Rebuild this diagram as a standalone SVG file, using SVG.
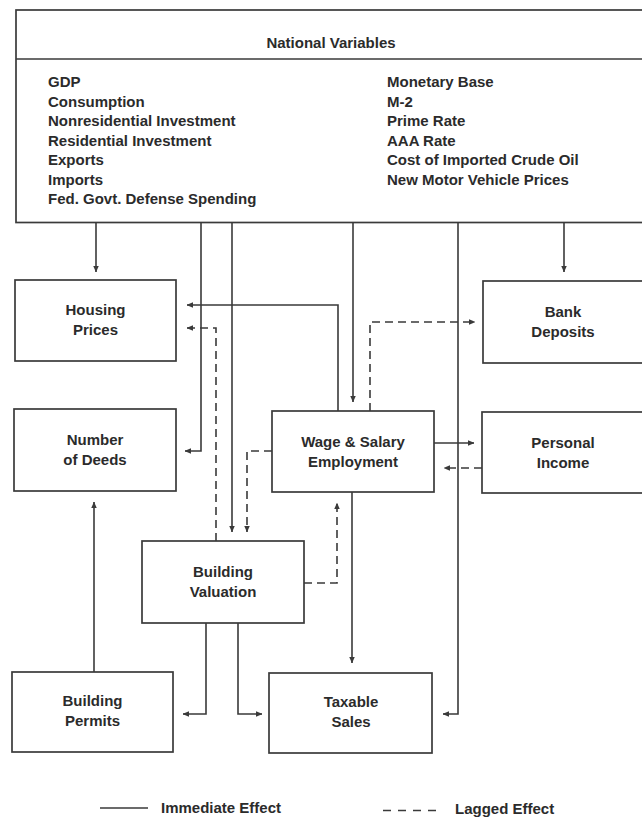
<svg xmlns="http://www.w3.org/2000/svg" width="642" height="817" viewBox="0 0 642 817">
<style>
  .bg { fill: #ffffff; }
  .box { fill: none; stroke: #3a3a3a; stroke-width: 1.7; }
  .t { font-family: "Liberation Sans", Arial, sans-serif; font-weight: bold; font-size: 15px; fill: #2b2b2b; }
  .c { text-anchor: middle; }
  .ln { fill: none; stroke: #3a3a3a; stroke-width: 1.6; }
  .ds { stroke-dasharray: 8 5; }
</style>
<defs>
  <marker id="ah" viewBox="0 0 8 8" refX="7.5" refY="4" markerWidth="6.5" markerHeight="6.5" markerUnits="userSpaceOnUse" orient="auto">
    <path d="M0,0.6 L8,4 L0,7.4 z" fill="#3a3a3a"/>
  </marker>
</defs>
<rect class="bg" x="0" y="0" width="642" height="817"/>

<g id="national-variables">
  <rect class="box" x="16" y="10" width="632" height="212.5"/>
  <line class="box" x1="16" y1="59" x2="648" y2="59"/>
  <text class="t c" x="331" y="48">National Variables</text>
  <text class="t" x="48" y="87">GDP</text>
  <text class="t" x="48" y="106.5">Consumption</text>
  <text class="t" x="48" y="126">Nonresidential Investment</text>
  <text class="t" x="48" y="145.5">Residential Investment</text>
  <text class="t" x="48" y="165">Exports</text>
  <text class="t" x="48" y="184.5">Imports</text>
  <text class="t" x="48" y="204">Fed. Govt. Defense Spending</text>
  <text class="t" x="387" y="87">Monetary Base</text>
  <text class="t" x="387" y="106.5">M-2</text>
  <text class="t" x="387" y="126">Prime Rate</text>
  <text class="t" x="387" y="145.5">AAA Rate</text>
  <text class="t" x="387" y="165">Cost of Imported Crude Oil</text>
  <text class="t" x="387" y="184.5">New Motor Vehicle Prices</text>
</g>

<g id="housing-prices">
  <rect class="box" x="15" y="280" width="161" height="81"/>
  <text class="t c" x="95.5" y="315">Housing</text>
  <text class="t c" x="95.5" y="335">Prices</text>
</g>

<g id="bank-deposits">
  <rect class="box" x="483" y="281" width="162" height="82"/>
  <text class="t c" x="563" y="317">Bank</text>
  <text class="t c" x="563" y="337">Deposits</text>
</g>

<g id="number-of-deeds">
  <rect class="box" x="14" y="409" width="162" height="82"/>
  <text class="t c" x="95" y="445">Number</text>
  <text class="t c" x="95" y="465">of Deeds</text>
</g>

<g id="wage-salary-employment">
  <rect class="box" x="272" y="411" width="162" height="81"/>
  <text class="t c" x="353" y="446.5">Wage &amp; Salary</text>
  <text class="t c" x="353" y="466.5">Employment</text>
</g>

<g id="personal-income">
  <rect class="box" x="482" y="412" width="163" height="81"/>
  <text class="t c" x="563" y="447.5">Personal</text>
  <text class="t c" x="563" y="467.5">Income</text>
</g>

<g id="building-valuation">
  <rect class="box" x="142" y="541" width="162" height="82"/>
  <text class="t c" x="223" y="577">Building</text>
  <text class="t c" x="223" y="597">Valuation</text>
</g>

<g id="building-permits">
  <rect class="box" x="12" y="672" width="161" height="80"/>
  <text class="t c" x="92.5" y="706">Building</text>
  <text class="t c" x="92.5" y="726">Permits</text>
</g>

<g id="taxable-sales">
  <rect class="box" x="269" y="673" width="163" height="80"/>
  <text class="t c" x="351" y="707">Taxable</text>
  <text class="t c" x="351" y="727">Sales</text>
</g>

<g id="connectors">
  <path class="ln" d="M96,222.5 V272" marker-end="url(#ah)"/>
  <path class="ln" d="M201,222.5 V451 H185" marker-end="url(#ah)"/>
  <path class="ln" d="M232,222.5 V532" marker-end="url(#ah)"/>
  <path class="ln" d="M353,222.5 V402" marker-end="url(#ah)"/>
  <path class="ln" d="M458,222.5 V714 H443" marker-end="url(#ah)"/>
  <path class="ln" d="M564,222.5 V272" marker-end="url(#ah)"/>
  <path class="ln" d="M338,411 V305 H187" marker-end="url(#ah)"/>
  <path class="ln ds" d="M216,541 V328 H187" marker-end="url(#ah)"/>
  <path class="ln ds" d="M370,411 V322 H475" marker-end="url(#ah)"/>
  <path class="ln ds" d="M272,451 H247 V532" marker-end="url(#ah)"/>
  <path class="ln" d="M434,443 H474" marker-end="url(#ah)"/>
  <path class="ln ds" d="M482,468 H444" marker-end="url(#ah)"/>
  <path class="ln ds" d="M304,583 H337 V503" marker-end="url(#ah)"/>
  <path class="ln" d="M352,492 V663" marker-end="url(#ah)"/>
  <path class="ln" d="M94,672 V502" marker-end="url(#ah)"/>
  <path class="ln" d="M206,623 V714 H183" marker-end="url(#ah)"/>
  <path class="ln" d="M238,623 V714 H262" marker-end="url(#ah)"/>
</g>

<g id="legend">
  <line class="ln" x1="100" y1="808" x2="148" y2="808"/>
  <text class="t" x="161" y="813">Immediate Effect</text>
  <line class="ln ds" x1="383" y1="810.5" x2="440" y2="810.5" style="stroke-dasharray: 8 7"/>
  <text class="t" x="455" y="814">Lagged Effect</text>
</g>
</svg>
